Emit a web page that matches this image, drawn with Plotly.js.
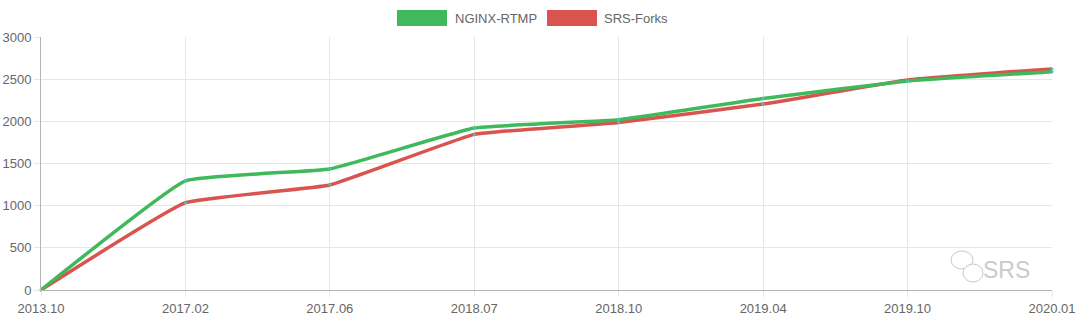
<!DOCTYPE html>
<html>
<head>
<meta charset="utf-8">
<script src="https://cdn.plot.ly/plotly-3.0.1.min.js"></script>
<style>
html,body{margin:0;padding:0;background:#fff;}
#chart{width:1080px;height:322px;}
</style>
</head>
<body>
<div id="chart"></div>
<script>
const categories = ["2013.10","2017.02","2017.06","2018.07","2018.10","2019.04","2019.10","2020.01"];
const nginxRtmp = [0, 1295, 1435, 1920, 2020, 2270, 2478, 2588];
const srsForks  = [0, 1035, 1245, 1845, 1985, 2205, 2490, 2622];
const seriesNames = ["NGINX-RTMP", "SRS-Forks"];
const yTicks = [0, 500, 1000, 1500, 2000, 2500, 3000];

const green = "#3fb95b";
const red = "#d9534f";
const pointColor = "#4bc0c0";
const fontFam = "Liberation Sans, Arial, Helvetica, sans-serif";

function trace(vals, name, color) {
  return {
    x: categories, y: vals, name: name, type: "scatter", mode: "lines+markers",
    line: {color: color, width: 3.5, shape: "spline", smoothing: 0.3},
    marker: {color: pointColor, size: 3},
    cliponaxis: false, hoverinfo: "x+y+name"
  };
}

const data = [trace(srsForks, seriesNames[1], red), trace(nginxRtmp, seriesNames[0], green)];

const layout = {
  width: 1080, height: 322,
  margin: {l: 41, r: 28, t: 37, b: 32, pad: 0},
  paper_bgcolor: "#fff", plot_bgcolor: "#fff",
  showlegend: false,
  font: {family: fontFam, size: 13, color: "#666"},
  xaxis: {
    type: "category", range: [0, 7],
    showgrid: true, gridcolor: "#e6e6e6", gridwidth: 1,
    showline: true, linecolor: "#b5b5b5", linewidth: 1,
    ticks: "outside", ticklen: 6, tickcolor: "#e6e6e6",
    tickfont: {family: fontFam, size: 13, color: "#666"},
    zeroline: false, fixedrange: true
  },
  yaxis: {
    range: [0, 3000], tickvals: yTicks, ticktext: yTicks.map(String),
    showgrid: true, gridcolor: "#e6e6e6", gridwidth: 1,
    showline: true, linecolor: "#b5b5b5", linewidth: 1,
    ticks: "outside", ticklen: 6, tickcolor: "#e6e6e6",
    tickfont: {family: fontFam, size: 13, color: "#666"},
    zeroline: false, fixedrange: true
  },
  shapes: [
    {type: "rect", xref: "paper", yref: "paper", xsizemode: "pixel", ysizemode: "pixel",
     xanchor: 0, yanchor: 1, x0: 356, x1: 406, y0: 11, y1: 27,
     fillcolor: green, line: {width: 0}},
    {type: "rect", xref: "paper", yref: "paper", xsizemode: "pixel", ysizemode: "pixel",
     xanchor: 0, yanchor: 1, x0: 506, x1: 556, y0: 11, y1: 27,
     fillcolor: red, line: {width: 0}},
    {type: "circle", xref: "paper", yref: "paper", xsizemode: "pixel", ysizemode: "pixel",
     xanchor: 0, yanchor: 0, x0: 910, x1: 932, y0: 21, y1: 39,
     fillcolor: "rgba(255,255,255,0.6)", line: {width: 1, color: "#c8c8c8"}},
    {type: "circle", xref: "paper", yref: "paper", xsizemode: "pixel", ysizemode: "pixel",
     xanchor: 0, yanchor: 0, x0: 922, x1: 942, y0: 8, y1: 26,
     fillcolor: "rgba(255,255,255,0.8)", line: {width: 1, color: "#c8c8c8"}}
  ],
  annotations: [
    {xref: "paper", yref: "paper", x: 0, y: 1, xshift: 412, yshift: 19,
     xanchor: "left", yanchor: "middle", showarrow: false, text: seriesNames[0],
     font: {family: fontFam, size: 13, color: "#666"}},
    {xref: "paper", yref: "paper", x: 0, y: 1, xshift: 561, yshift: 19,
     xanchor: "left", yanchor: "middle", showarrow: false, text: seriesNames[1],
     font: {family: fontFam, size: 13, color: "#666"}},
    {xref: "paper", yref: "paper", x: 1, y: 0, xshift: -20, yshift: 20,
     xanchor: "right", yanchor: "middle", showarrow: false, text: "SRS",
     font: {family: fontFam, size: 23, color: "#cacaca"}}
  ]
};

Plotly.newPlot("chart", data, layout, {displayModeBar: false, staticPlot: false});
</script>
</body>
</html>
